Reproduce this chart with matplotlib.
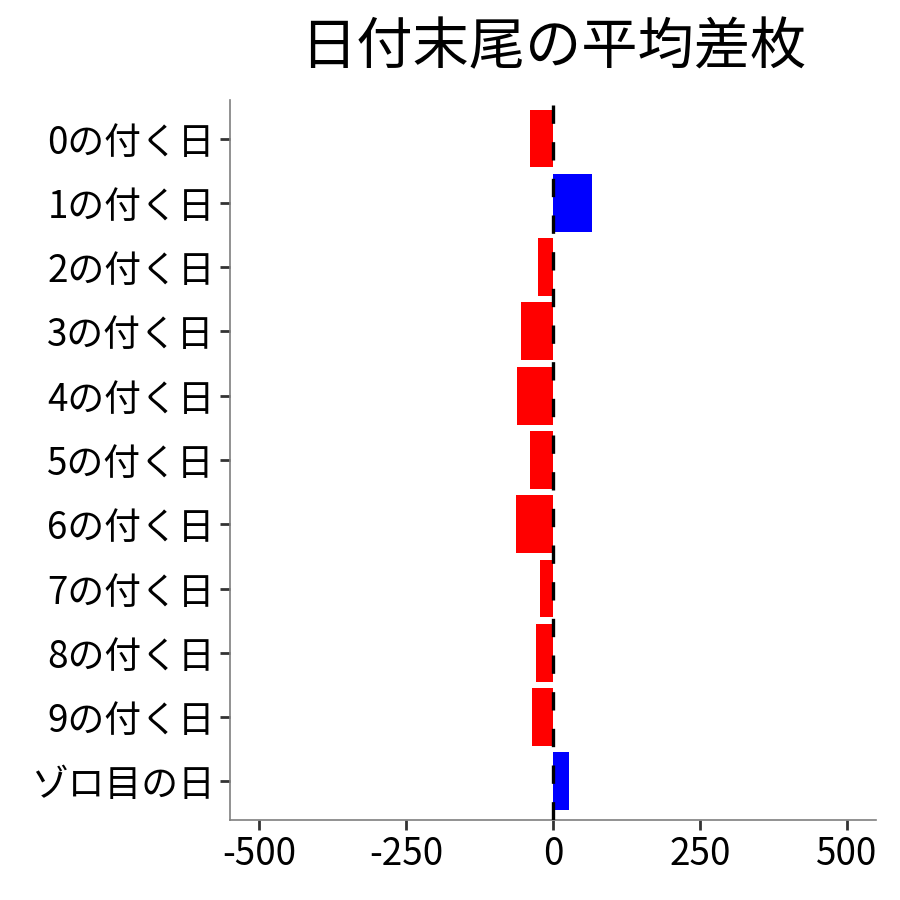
import matplotlib
matplotlib.use("Agg")
import matplotlib.pyplot as plt

plt.rcParams['font.family'] = ['Noto Sans CJK JP', 'DejaVu Sans']
plt.rcParams['axes.unicode_minus'] = False

# average difference per day ending
labels = ["0の付く日", "1の付く日", "2の付く日", "3の付く日", "4の付く日",
          "5の付く日", "6の付く日", "7の付く日", "8の付く日", "9の付く日", "ゾロ目の日"]
values = [-39, 67, -25, -54, -61, -39, -63, -22, -29, -36, 27]
xticks = [-500, -250, 0, 250, 500]

colors = ["blue" if v > 0 else "red" for v in values]
ypos = list(range(len(labels)))

fig = plt.figure(figsize=(9, 9), dpi=100)
ax = fig.add_axes([0.2556, 0.0889, 0.7178, 0.8])

ax.barh(ypos, values, height=0.9, color=colors, zorder=2)
ax.axvline(0, color="black", lw=2.4, linestyle=(0, (5.5, 5.5)), zorder=3)

ax.set_xlim(-550, 550)
ax.set_ylim(len(labels) - 0.4, -0.6)
ax.set_xticks(xticks)
ax.set_xticklabels([str(t) for t in xticks])
ax.set_yticks(ypos)
ax.set_yticklabels(labels)

for s in ["top", "right"]:
    ax.spines[s].set_visible(False)
for s in ["left", "bottom"]:
    ax.spines[s].set_color("#7f7f7f")
    ax.spines[s].set_linewidth(1.2)

ax.tick_params(axis="both", length=7, width=2, color="#333333",
               labelsize=26.5, labelcolor="black", pad=4)

ax.set_title("日付末尾の平均差枚", fontsize=40.5, pad=26)

fig.savefig("out.png", dpi=100)
